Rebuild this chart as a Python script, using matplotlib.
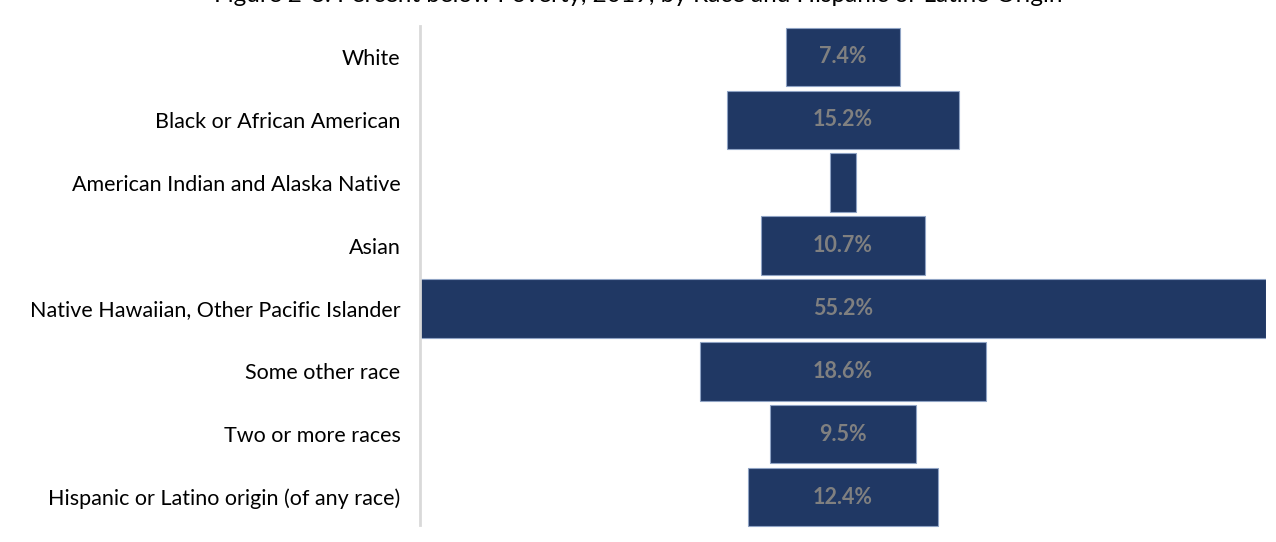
import matplotlib
matplotlib.use("Agg")
import matplotlib.pyplot as plt

categories = ["White", "Black or African American", "American Indian and Alaska Native",
              "Asian", "Native Hawaiian, Other Pacific Islander", "Some other race",
              "Two or more races", "Hispanic or Latino origin (of any race)"]
values = [7.4, 15.2, 1.7, 10.7, 55.2, 18.6, 9.5, 12.4]
labels = ["7.4%", "15.2%", "", "10.7%", "55.2%", "18.6%", "9.5%", "12.4%"]
title = "Figure 2-8: Percent below Poverty, 2019, by Race and Hispanic or Latino Origin"

plt.rcParams['font.family'] = ['Lato', 'DejaVu Sans']
fig = plt.figure(figsize=(12.76, 5.42), dpi=100)
ax = fig.add_axes([420/1276, 10.4/542, 846/1276, 509.2/542])
n = len(categories)
ys = list(range(n))
lefts = [-v/2 for v in values]
ax.barh(ys, values, left=lefts, height=0.93, color="#203864", edgecolor="#8FA3C4", linewidth=0.8)
for y, v, lab in zip(ys, values, labels):
    if lab:
        ax.text(0, y, lab, ha="center", va="center", color="#808080", fontsize=15.5, fontweight="bold")
m = max(values) / 2
ax.set_xlim(-m, m)
ax.set_ylim(n - 0.5 + 0.05, -0.5 - 0.05)
ax.set_yticks(ys)
ax.set_yticklabels(categories, fontsize=15.5)
ax.tick_params(axis="y", length=0, pad=14)
ax.set_xticks([])
for s in ["top", "right", "bottom"]:
    ax.spines[s].set_visible(False)
ax.spines["left"].set_color("#D9D9D9")
ax.spines["left"].set_linewidth(2)
ax.spines["left"].set_bounds(7.45, -0.5)
fig.text(638/1276, 1 - 2/542, title, ha="center", va="baseline", fontsize=17.5)
fig.savefig("out.png", dpi=100)
